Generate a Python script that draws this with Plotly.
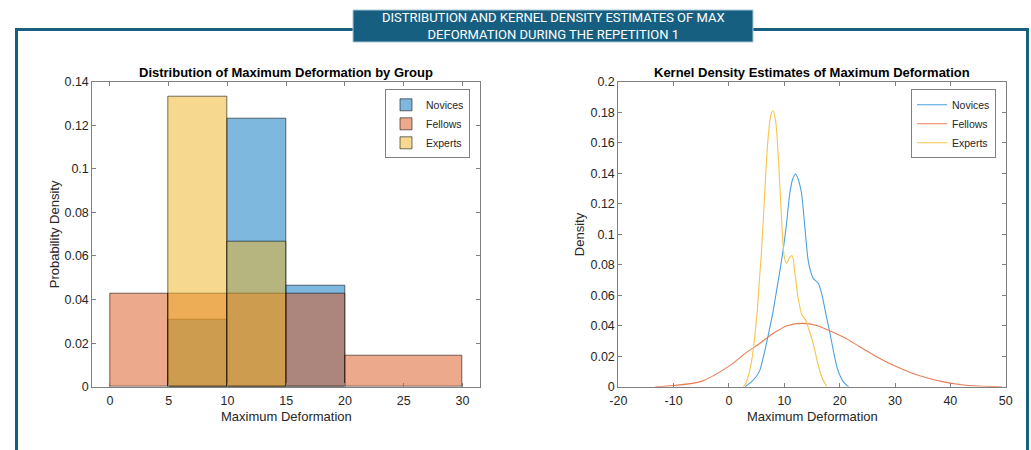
import plotly.graph_objects as go

# ---------------- data ----------------
groups = ["Novices", "Fellows", "Experts"]

novices_edges = [5, 10, 15, 20]
novices_density = [0.0308, 0.1231, 0.0462]
fellows_edges = [0, 5, 10, 15, 20, 30]
fellows_density = [0.0429, 0.0429, 0.0429, 0.0429, 0.0143]
experts_edges = [5, 10, 15]
experts_density = [0.1333, 0.0667]

novices_kde_x = [2.9, 4.0, 5.0, 5.6, 6.5, 7.4, 8.0, 8.6, 9.2, 9.8, 10.4, 11.0, 11.5, 12.05,
                 12.6, 13.1, 13.7, 14.3, 14.8, 15.2, 16.1, 16.6, 17.0, 17.6, 18.25, 19.0,
                 19.5, 20.1, 20.7, 21.6]
novices_kde_y = [0.0, 0.003, 0.007, 0.011, 0.024, 0.039, 0.05, 0.063, 0.076, 0.09, 0.107,
                 0.127, 0.136, 0.1395, 0.135, 0.127, 0.105, 0.083, 0.075, 0.071, 0.068, 0.063,
                 0.057, 0.046, 0.035, 0.021, 0.013, 0.007, 0.003, 0.0]
fellows_kde_x = [-13.3, -10, -5, 0, 3, 5.6, 8, 10.5, 13.3, 16, 18, 21, 23.7, 27, 30, 33, 36,
                 39, 42, 45, 49.3]
fellows_kde_y = [0.0, 0.0008, 0.0035, 0.0135, 0.022, 0.0285, 0.035, 0.04, 0.0415, 0.04, 0.037,
                 0.032, 0.026, 0.019, 0.0135, 0.009, 0.0055, 0.003, 0.0013, 0.0005, 0.0]
experts_kde_x = [2.6, 3.0, 4.0, 5.0, 5.5, 5.9, 6.5, 7.0, 7.5, 7.9, 8.4, 9.0, 9.5, 10.0, 10.4,
                 11.0, 11.4, 11.9, 12.5, 13.2, 13.8, 14.4, 15.2, 16.0, 16.8, 17.7]
experts_kde_y = [0.0, 0.002, 0.015, 0.045, 0.07, 0.09, 0.13, 0.16, 0.177, 0.181, 0.175, 0.145,
                 0.11, 0.085, 0.081, 0.085, 0.086, 0.075, 0.058, 0.047, 0.044, 0.038, 0.0285,
                 0.016, 0.006, 0.0]

hist_xticks = [0, 5, 10, 15, 20, 25, 30]
hist_yticks = [0, 0.02, 0.04, 0.06, 0.08, 0.1, 0.12, 0.14]
hist_ytext = ["0", "0.02", "0.04", "0.06", "0.08", "0.1", "0.12", "0.14"]
kde_xticks = [-20, -10, 0, 10, 20, 30, 40, 50]
kde_xtext = ["-20", "-10", "0", "10", "20", "30", "40", "50"]
kde_yticks = [0, 0.02, 0.04, 0.06, 0.08, 0.1, 0.12, 0.14, 0.16, 0.18, 0.2]
kde_ytext = ["0", "0.02", "0.04", "0.06", "0.08", "0.1", "0.12", "0.14", "0.16", "0.18", "0.2"]

banner_text = "DISTRIBUTION AND KERNEL DENSITY ESTIMATES OF MAX<br>DEFORMATION DURING THE REPETITION 1"
left_title = "Distribution of Maximum Deformation by Group"
right_title = "Kernel Density Estimates of Maximum Deformation"
x_label = "Maximum Deformation"
left_ylabel = "Probability Density"
right_ylabel = "Density"

# ---------------- style ----------------
fill_colors = ["rgba(0,114,189,0.5)", "rgba(217,83,25,0.5)", "rgba(237,177,32,0.5)"]
line_colors = ["rgb(77,160,220)", "rgb(232,125,85)", "rgb(246,196,75)"]
W, H = 1031, 450
FONT = "Liberation Sans, Arial, Helvetica, sans-serif"
AX = "rgb(128,128,128)"
TXT = "rgb(38,38,38)"


def px_x(p):
    return p / W


def px_y(p):
    return 1 - p / H


fig = go.Figure()

hist_sets = [(novices_edges, novices_density), (fellows_edges, fellows_density),
             (experts_edges, experts_density)]
for name, (edges, dens), col in zip(groups, hist_sets, fill_colors):
    centers = [(a + b) / 2 for a, b in zip(edges[:-1], edges[1:])]
    widths = [b - a for a, b in zip(edges[:-1], edges[1:])]
    fig.add_trace(go.Bar(
        x=centers, y=dens, width=widths, name=name,
        marker=dict(color=col, line=dict(color="rgba(0,0,0,0.55)", width=1)),
        xaxis="x", yaxis="y", legend="legend", hoverinfo="x+y",
    ))

kde_sets = [(novices_kde_x, novices_kde_y), (fellows_kde_x, fellows_kde_y),
            (experts_kde_x, experts_kde_y)]
for name, (xs, ys), col in zip(groups, kde_sets, line_colors):
    fig.add_trace(go.Scatter(
        x=xs, y=ys, name=name, mode="lines",
        line=dict(color=col, width=1.1, shape="spline", smoothing=0.8),
        xaxis="x2", yaxis="y2", legend="legend2",
    ))

axis_common = dict(
    showline=True, linecolor=AX, linewidth=1, mirror="ticks", ticks="inside",
    ticklen=4, tickcolor=AX, showgrid=False, zeroline=False, automargin=False,
    tickfont=dict(family=FONT, size=12.5, color=TXT),
)

y0d, y1d = px_y(386.7), px_y(81.7)
legend_common = dict(xanchor="right", yanchor="top", bgcolor="white", bordercolor=AX,
                     borderwidth=1, font=dict(family=FONT, size=10.5, color=TXT),
                     tracegroupgap=0, itemwidth=30)
fig.update_layout(
    template="none",
    width=W, height=H, autosize=False,
    margin=dict(l=0, r=0, t=0, b=0, pad=0, autoexpand=False),
    paper_bgcolor="white", plot_bgcolor="white",
    barmode="overlay", bargap=0,
    showlegend=True,
    xaxis=dict(domain=[px_x(92.3), px_x(480)], range=[-1.5, 31.5],
               tickvals=hist_xticks, anchor="y", ticklabelstandoff=2, **axis_common),
    yaxis=dict(domain=[y0d, y1d], range=[0, 0.14], tickvals=hist_yticks,
               ticktext=hist_ytext, anchor="x", **axis_common),
    xaxis2=dict(domain=[px_x(618.3), px_x(1005.7)], range=[-20, 50],
                tickvals=kde_xticks, ticktext=kde_xtext, anchor="y2",
                ticklabelstandoff=2, **axis_common),
    yaxis2=dict(domain=[y0d, y1d], range=[0, 0.2], tickvals=kde_yticks,
                ticktext=kde_ytext, anchor="x2", **axis_common),
    legend=dict(x=px_x(470), y=px_y(89.3), **legend_common),
    legend2=dict(x=px_x(996), y=px_y(89.3), **legend_common),
)

# outer frame and banner
fig.add_shape(type="rect", xref="paper", yref="paper",
              x0=px_x(16.5), x1=px_x(1027.5), y0=px_y(480), y1=px_y(29.5),
              line=dict(color="rgb(24,94,128)", width=3), fillcolor="rgba(0,0,0,0)",
              layer="below")
fig.add_shape(type="rect", xref="paper", yref="paper",
              x0=px_x(353), x1=px_x(753), y0=px_y(42), y1=px_y(10),
              line=dict(color="rgb(170,200,215)", width=1), fillcolor="rgb(22,95,129)",
              layer="above")

annos = [
    dict(text=banner_text, x=px_x(553), y=px_y(26),
         font=dict(family="Roboto, sans-serif", size=13, color="white")),
    dict(text="<b>" + left_title + "</b>", x=px_x(286.2), y=px_y(72),
         font=dict(family=FONT, size=13, color="black")),
    dict(text="<b>" + right_title + "</b>", x=px_x(812), y=px_y(72),
         font=dict(family=FONT, size=13, color="black")),
    dict(text=x_label, x=px_x(286.2), y=px_y(416),
         font=dict(family=FONT, size=13, color=TXT)),
    dict(text=x_label, x=px_x(812), y=px_y(416),
         font=dict(family=FONT, size=13, color=TXT)),
    dict(text=left_ylabel, x=px_x(54), y=px_y(234.2), textangle=-90,
         font=dict(family=FONT, size=13, color=TXT)),
    dict(text=right_ylabel, x=px_x(579), y=px_y(234.2), textangle=-90,
         font=dict(family=FONT, size=13, color=TXT)),
]
for a in annos:
    fig.add_annotation(xref="paper", yref="paper", showarrow=False,
                       xanchor="center", yanchor="middle", align="center", **a)

fig.write_html("out.html", config={"displayModeBar": False},
               post_script="document.body.style.margin='0';")
